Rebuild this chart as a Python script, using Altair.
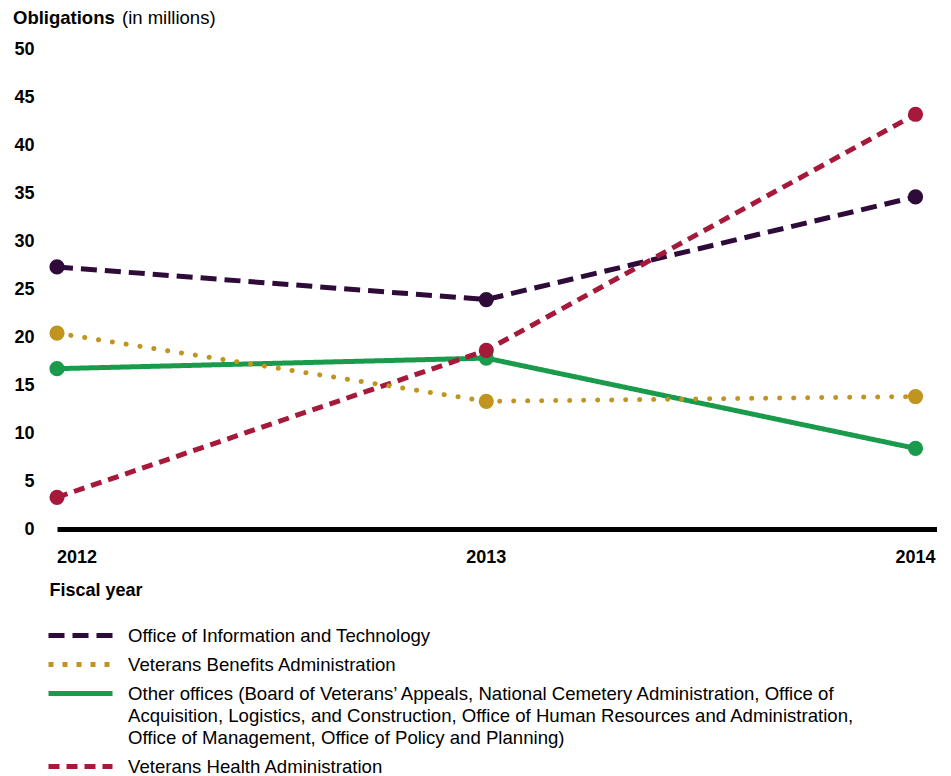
import altair as alt
import pandas as pd

# ---- data ----
YEARS = [2012, 2013, 2014]
OIT = [27.3, 23.9, 34.6]
VBA = [20.4, 13.3, 13.8]
OTHER = [16.7, 17.8, 8.4]
VHA = [3.3, 18.6, 43.2]

OTHER_LINES = [
    "Other offices (Board of Veterans\u2019 Appeals, National Cemetery Administration, Office of",
    "Acquisition, Logistics, and Construction, Office of Human Resources and Administration,",
    "Office of Management, Office of Policy and Planning)",
]
SERIES = [
    "Office of Information and Technology",
    "Veterans Benefits Administration",
    " ".join(OTHER_LINES),
    "Veterans Health Administration",
]
VALUES = [OIT, VBA, OTHER, VHA]
COLORS = ["#2f0b3a", "#c0941f", "#1a9a4b", "#a6193b"]
DASHES = [[16, 8], [5, 9], [1, 0], [11, 7]]

TITLE_BOLD = "Obligations"
TITLE_REST = "(in millions)"
X_TITLE = "Fiscal year"
Y_TICKS = [0, 5, 10, 15, 20, 25, 30, 35, 40, 45, 50]

FONT = "Liberation Sans"

rows = []
for s, vals in zip(SERIES, VALUES):
    for y, v in zip(YEARS, vals):
        rows.append({"series": s, "year": y, "value": v})
df = pd.DataFrame(rows)
years_df = pd.DataFrame({"year": YEARS, "label": [str(y) for y in YEARS]})

x_scale = alt.Scale(domain=[2012, 2014.05], nice=False, zero=False)
x_enc = alt.X(
    "year:Q",
    scale=x_scale,
    axis=alt.Axis(
        values=YEARS,
        labels=False,
        title=X_TITLE,
        titleFont=FONT,
        titleFontSize=18,
        titleFontWeight="bold",
        titleColor="black",
        titleAlign="left",
        titleBaseline="middle",
        titleAnchor="start",
        titleX=-8,
        titleY=61,
        ticks=False,
        tickSize=0,
        grid=False,
        domain=True,
        domainColor="black",
        domainWidth=5,
    ),
)
y_enc = alt.Y(
    "value:Q",
    scale=alt.Scale(domain=[0, 50], nice=False),
    axis=alt.Axis(
        values=Y_TICKS,
        title=None,
        labelFont=FONT,
        labelFontSize=18,
        labelFontWeight="bold",
        labelColor="black",
        labelPadding=23,
        ticks=False,
        tickSize=0,
        grid=False,
        domain=False,
    ),
)

label_expr = (
    "indexof(datum.label, 'Other offices') == 0 ? ["
    + ", ".join("'" + l + "'" for l in OTHER_LINES)
    + "] : datum.label"
)

legend = alt.Legend(
    title=None,
    orient="none",
    legendX=13,
    legendY=576,
    direction="vertical",
    symbolType="M-4,0H4",
    symbolSize=256,
    symbolStrokeWidth=5,
    labelFont=FONT,
    labelFontSize=18.6,
    labelColor="black",
    labelOffset=37,
    labelLimit=1000,
    labelBaseline="middle",
    rowPadding=8,
    padding=0,
    labelExpr=label_expr,
)

color_scale = alt.Scale(domain=SERIES, range=COLORS)
dash_scale = alt.Scale(domain=SERIES, range=DASHES)
color_enc = alt.Color("series:N", scale=color_scale, legend=legend)

base = alt.Chart(df)

lines = base.transform_filter(
    alt.FieldOneOfPredicate(field="series", oneOf=[SERIES[0], SERIES[2], SERIES[3]])
).mark_line(strokeWidth=5).encode(
    x=x_enc,
    y=y_enc,
    color=color_enc,
    strokeDash=alt.StrokeDash("series:N", scale=dash_scale, legend=legend),
)

vba_line = base.transform_filter(
    alt.FieldEqualPredicate(field="series", equal=SERIES[1])
).mark_line(strokeWidth=5, strokeDash=[0.1, 13.9], strokeCap="round").encode(
    x=x_enc,
    y=y_enc,
    color=color_enc,
)

points = base.mark_circle(size=230, opacity=1).encode(
    x=x_enc,
    y=y_enc,
    color=color_enc,
)

tick_left = alt.Chart(years_df).transform_filter(
    alt.datum.year == YEARS[0]
).mark_text(
    align="left", baseline="top", font=FONT, fontSize=18, fontWeight="bold", color="black"
).encode(x=alt.X("year:Q", scale=x_scale), y=alt.value(500), text="label:N")

tick_center = alt.Chart(years_df).transform_filter(
    alt.datum.year != YEARS[0]
).mark_text(
    align="center", baseline="top", font=FONT, fontSize=18, fontWeight="bold", color="black"
).encode(x=alt.X("year:Q", scale=x_scale), y=alt.value(500), text="label:N")

title_bold = alt.Chart(pd.DataFrame({"t": [TITLE_BOLD]})).mark_text(
    align="left", baseline="alphabetic", font=FONT, fontSize=18.5, fontWeight="bold", color="black"
).encode(text="t:N", x=alt.value(-44), y=alt.value(-25))

title_rest = alt.Chart(pd.DataFrame({"t": [TITLE_REST]})).mark_text(
    align="left", baseline="alphabetic", font=FONT, fontSize=18.5, fontWeight="normal", color="black"
).encode(text="t:N", x=alt.value(65), y=alt.value(-25))

chart = alt.layer(
    lines, vba_line, points, tick_left, tick_center, title_bold, title_rest
).properties(
    width=880,
    height=480,
    padding={"left": 5, "top": 1, "right": 0, "bottom": 0},
    background="white",
).configure(
    style={"guide-label": {"lineHeight": 22}},
    view=alt.ViewConfig(stroke=None),
)

chart.save("out.html", embed_options={"renderer": "svg", "actions": False})
